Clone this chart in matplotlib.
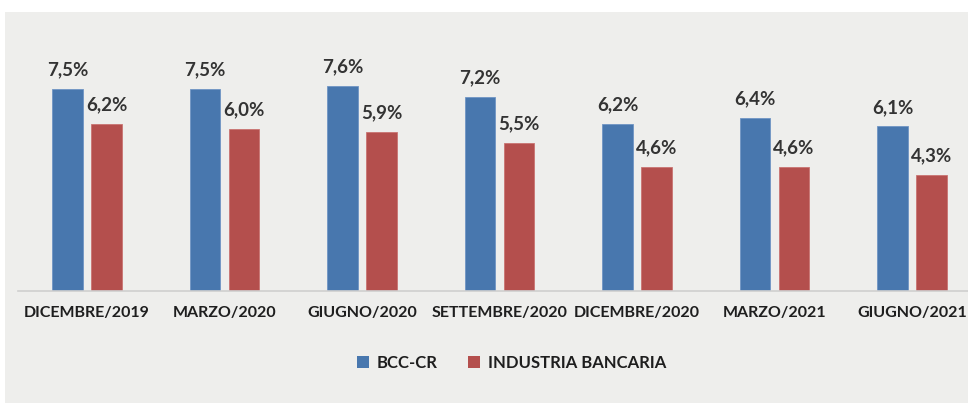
import matplotlib
matplotlib.use("Agg")
import matplotlib.pyplot as plt
from matplotlib.patches import Rectangle, Patch
import numpy as np

categories = ["DICEMBRE/2019", "MARZO/2020", "GIUGNO/2020", "SETTEMBRE/2020",
              "DICEMBRE/2020", "MARZO/2021", "GIUGNO/2021"]
bcc = [7.5, 7.5, 7.6, 7.2, 6.2, 6.4, 6.1]
industria = [6.2, 6.0, 5.9, 5.5, 4.6, 4.6, 4.3]
series_names = ["BCC-CR", "INDUSTRIA BANCARIA"]

BLUE = "#4877AE"
RED = "#B44F4D"
BG = "#EEEEEC"
TXT = "#1e1e1e"
LBL = "#333333"

plt.rcParams['font.family'] = ['Lato', 'DejaVu Sans']

W, H = 968, 403
fig = plt.figure(figsize=(W / 100, H / 100), dpi=100)
fig.patch.set_facecolor("white")
fig.patches.append(Rectangle((5 / W, 0), 1, 1 - 12 / H, transform=fig.transFigure,
                             facecolor=BG, edgecolor="none", zorder=-10))

left = 18.25 / W
width = 962.5 / W
bottom = (H - 291) / H
height = (291 - 12) / H
ax = fig.add_axes([left, bottom, width, height])
ax.set_facecolor("none")

x = np.arange(len(categories))
bw = 0.225
off = 0.142
b1 = ax.bar(x - off, bcc, bw, color=BLUE, edgecolor="#6f95c4", linewidth=0.6)
b2 = ax.bar(x + off, industria, bw, color=RED, edgecolor="#c97472", linewidth=0.6)

for bars, vals in ((b1, bcc), (b2, industria)):
    for r, v in zip(bars, vals):
        ax.annotate(f"{v:.1f}%".replace(".", ","),
                    (r.get_x() + r.get_width() / 2, v),
                    xytext=(0, 13.7), textcoords="offset points",
                    ha="center", va="center", fontsize=13.5, fontweight="bold",
                    color=LBL)

ax.set_xlim(-0.5, len(categories) - 0.5)
ax.set_ylim(0, 279 / 27)
ax.set_xticks(x)
ax.set_xticklabels(categories, fontsize=11.5, fontweight="bold", color=TXT)
ax.tick_params(axis="x", length=0, pad=11)
ax.set_yticks([])
for s in ("top", "right", "left"):
    ax.spines[s].set_visible(False)
ax.spines["bottom"].set_color("#cfcfcf")
ax.spines["bottom"].set_linewidth(1.2)

handles = [Patch(facecolor=BLUE, edgecolor="none"), Patch(facecolor=RED, edgecolor="none")]
fig.legend(handles, series_names, loc="center", bbox_to_anchor=(511.5 / W, 1 - 363 / H),
           ncol=2, frameon=False, handlelength=0.75, handleheight=0.75,
           handletextpad=0.45, columnspacing=1.8,
           prop={"family": ["Lato", "DejaVu Sans"], "weight": "bold", "size": 12})
for t in fig.legends[0].get_texts():
    t.set_color(TXT)

fig.savefig("out.png", dpi=100)
